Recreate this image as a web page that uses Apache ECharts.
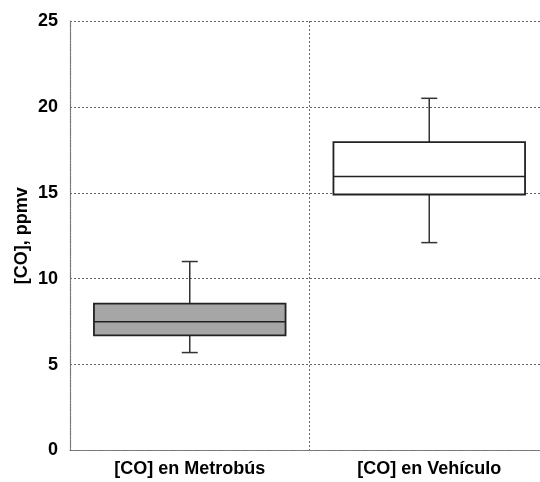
<!DOCTYPE html>
<html>
<head>
<meta charset="utf-8">
<script src="https://cdn.jsdelivr.net/npm/echarts@6/dist/echarts.min.js"></script>
<style>
  html, body { margin: 0; padding: 0; background: #fff; }
  #chart { width: 540px; height: 482px; }
</style>
</head>
<body>
<div id="chart"></div>
<script>
// CO concentration (ppmv) measured in the Metrobús and in a private vehicle
const categories = ['[CO] en Metrobús', '[CO] en Vehículo'];
const whiskerLow  = [5.7, 12.1];
const quartile1   = [6.7, 14.9];
const medians     = [7.5, 15.95];
const quartile3   = [8.55, 17.95];
const whiskerHigh = [11.0, 20.5];
const yTicks = [0, 5, 10, 15, 20, 25];

const boxFills = ['#a6a6a6', '#ffffff'];
const FONT = '"Liberation Sans", Arial, sans-serif';

const rows = categories.map((c, i) => [i, whiskerLow[i], quartile1[i], medians[i], quartile3[i], whiskerHigh[i]]);

function renderBox(params, api) {
  const idx = api.value(0);
  const cx = api.coord([idx, 0])[0];
  const halfW = api.size([1, 0])[0] * 0.8 / 2;
  const capHalf = 8;
  const y = k => api.coord([idx, api.value(k)])[1];
  const yLo = y(1), yQ1 = y(2), yMed = y(3), yQ3 = y(4), yHi = y(5);
  const line = (x1, y1, x2, y2, w, col) => ({
    type: 'line',
    shape: { x1, y1, x2, y2 },
    style: { stroke: col, lineWidth: w }
  });
  return {
    type: 'group',
    children: [
      line(cx, yHi, cx, yQ3, 1.5, '#333'),
      line(cx, yQ1, cx, yLo, 1.5, '#333'),
      line(cx - capHalf, yHi, cx + capHalf, yHi, 1.5, '#333'),
      line(cx - capHalf, yLo, cx + capHalf, yLo, 1.5, '#333'),
      {
        type: 'rect',
        shape: { x: cx - halfW, y: yQ3, width: halfW * 2, height: yQ1 - yQ3 },
        style: { fill: boxFills[idx], stroke: '#222', lineWidth: 1.8 }
      },
      line(cx - halfW, yMed, cx + halfW, yMed, 1.5, '#222')
    ]
  };
}

const chart = echarts.init(document.getElementById('chart'), null, { renderer: 'canvas' });
chart.setOption({
  animation: false,
  backgroundColor: '#fff',
  grid: { left: 70, right: -9, top: 21, bottom: 31.5, containLabel: false, outerBoundsMode: 'none' },
  xAxis: {
    type: 'category',
    data: categories,
    boundaryGap: true,
    axisTick: { show: false },
    axisLine: { show: true, lineStyle: { color: '#777', type: [2, 1], width: 1.2 } },
    splitLine: { show: true, interval: 0, lineStyle: { color: '#666', type: [2, 2], width: 1 } },
    axisLabel: { color: '#000', fontFamily: FONT, fontWeight: 'bold', fontSize: 18, margin: 10, interval: 0 }
  },
  yAxis: {
    type: 'value',
    min: yTicks[0],
    max: yTicks[yTicks.length - 1],
    interval: 5,
    name: '[CO], ppmv',
    nameLocation: 'middle',
    nameRotate: 90,
    nameGap: 39,
    nameMoveOverlap: false,
    nameTextStyle: { color: '#000', fontFamily: FONT, fontWeight: 'bold', fontSize: 18 },
    axisTick: { show: false },
    axisLine: { show: true, lineStyle: { color: '#777', type: [2, 1], width: 1.2 } },
    splitLine: { show: true, lineStyle: { color: '#666', type: [2, 2], width: 1 } },
    axisLabel: { color: '#000', fontFamily: FONT, fontWeight: 'bold', fontSize: 18, margin: 12 }
  },
  series: [{
    type: 'custom',
    renderItem: renderBox,
    data: rows,
    encode: { x: 0, y: [1, 2, 3, 4, 5] },
    clip: false
  }]
});
</script>
</body>
</html>
